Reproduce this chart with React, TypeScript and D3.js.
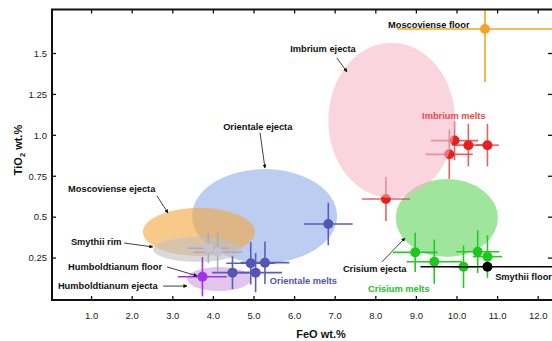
import React from "react";
import * as d3 from "d3";

// ---------- data ----------
const xTicks = [1, 2, 3, 4, 5, 6, 7, 8, 9, 10, 11, 12];
const yTicks = [0.25, 0.5, 0.75, 1.0, 1.25, 1.5];
const yTickLabels = ["0.25", "0.5", "0.75", "1.0", "1.25", "1.5"];

// ejecta fields (ellipses): centre FeO, centre TiO2, half-width FeO, half-height TiO2
const ejectaNames = ["Imbrium ejecta", "Crisium ejecta", "Orientale ejecta", "Moscoviense ejecta", "Smythii rim", "Humboldtianum ejecta"];
const ejectaFeO = [8.39, 9.75, 5.26, 3.645, 3.61, 4.14];
const ejectaTiO2 = [1.091, 0.495, 0.507, 0.41, 0.303, 0.122];
const ejectaFeOSpread = [1.56, 1.256, 1.786, 1.38, 1.096, 0.79];
const ejectaTiO2Spread = [0.474, 0.238, 0.287, 0.147, 0.076, 0.073];

// melts / samples with error bars
const imbriumMeltsFeO = [9.94, 10.28, 10.75, 9.81, 8.25];
const imbriumMeltsTiO2 = [0.968, 0.94, 0.94, 0.884, 0.611];
const imbriumMeltsFeOErr = [0.58, 0.4, 0.28, 0.58, 0.59];
const imbriumMeltsTiO2Err = [0.12, 0.13, 0.13, 0.15, 0.135];

const crisiumMeltsFeO = [8.97, 9.44, 10.16, 10.51, 10.75];
const crisiumMeltsTiO2 = [0.285, 0.228, 0.197, 0.289, 0.259];
const crisiumMeltsFeOErr = [0.55, 0.68, 0.3, 0.53, 0.36];
const crisiumMeltsTiO2Err = [0.12, 0.135, 0.13, 0.13, 0.13];

const orientaleMeltsFeO = [4.47, 4.92, 5.27, 5.04, 6.83];
const orientaleMeltsTiO2 = [0.161, 0.218, 0.222, 0.161, 0.458];
const orientaleMeltsFeOErr = [0.5, 0.6, 0.6, 0.65, 0.6];
const orientaleMeltsTiO2Err = [0.1, 0.13, 0.13, 0.12, 0.13];

const smythiiRimFeO = [3.875, 4.105];
const smythiiRimTiO2 = [0.31, 0.286];
const smythiiRimFeOErr = [0.5, 0.6];
const smythiiRimTiO2Err = [0.09, 0.12];

const humboldtianumFloorFeO = [3.73];
const humboldtianumFloorTiO2 = [0.136];
const humboldtianumFloorFeOErr = [0.6];
const humboldtianumFloorTiO2Err = [0.12];

const moscovienseFloorFeO = [10.69];
const moscovienseFloorTiO2 = [1.65];
const moscovienseFloorFeOErr = [2.17];
const moscovienseFloorTiO2Err = [0.324];

const smythiiFloorFeO = [10.75];
const smythiiFloorTiO2 = [0.197];
const smythiiFloorFeOErr = [1.65];
const smythiiFloorTiO2Err = [0];

// annotations (text, FeO, TiO2 anchor) and arrows (from -> to, in data units)
const labelTexts = ["Moscoviense floor", "Imbrium ejecta", "Orientale ejecta", "Imbrium melts", "Moscoviense ejecta", "Smythii rim", "Humboldtianum floor", "Humboldtianum ejecta", "Orientale melts", "Crisium ejecta", "Crisium melts", "Smythii floor"];
const labelFeO = [8.3, 5.89, 4.24, 9.14, 0.42, 0.49, 0.42, 0.17, 5.39, 7.19, 7.81, 10.94];
const labelTiO2 = [1.657, 1.51, 1.033, 1.1, 0.654, 0.33, 0.177, 0.061, 0.092, 0.165, 0.043, 0.116];

const arrowFromFeO = [7.04, 5.15, 2.61, 1.8, 2.86, 2.76, 8.15];
const arrowFromTiO2 = [1.473, 1.015, 0.63, 0.342, 0.196, 0.079, 0.226];
const arrowToFeO = [7.29, 5.27, 2.88, 2.51, 3.6, 3.35, 8.72];
const arrowToTiO2 = [1.388, 0.8, 0.526, 0.318, 0.141, 0.079, 0.373];

// ---------- styles ----------
const FONT = "'Liberation Sans', Arial, Helvetica, sans-serif";
const ejectaColors = ["#F5B2C6", "#61D45A", "#8FACE9", "#F5A53C", "#C1C1C1", "#CF9DDF"];
const labelColors = ["#111", "#111", "#111", "#E84A4A", "#111", "#111", "#111", "#111", "#4F52B3", "#111", "#22C022", "#111"];

const W = 552;
const H = 341;
const x = d3.scaleLinear().domain([0, 12.34]).range([51, 552]);
const y = d3.scaleLinear().domain([0, 1.772]).range([299, 9]);
const PL = 52, PR = 553, PT = 9.5, PB = 300;

type SeriesProps = {
  fe: number[]; ti: number[]; feErr: number[]; tiErr: number[];
  color: string; barColor: string; r?: number; barOpacity?: number;
};

function Series({ fe, ti, feErr, tiErr, color, barColor, r = 5, barOpacity = 1 }: SeriesProps) {
  return (
    <g>
      {fe.map((v, i) => (
        <g key={"b" + i} stroke={barColor} strokeWidth={1.6} opacity={barOpacity}>
          <line x1={x(v - feErr[i])} x2={x(v + feErr[i])} y1={y(ti[i])} y2={y(ti[i])} />
          {tiErr[i] > 0 && <line x1={x(v)} x2={x(v)} y1={y(ti[i] - tiErr[i])} y2={y(ti[i] + tiErr[i])} />}
        </g>
      ))}
      {fe.map((v, i) => (
        <circle key={"c" + i} cx={x(v)} cy={y(ti[i])} r={r} fill={color} />
      ))}
    </g>
  );
}

function Ellipse({ i, opacity = 0.6 }: { i: number; opacity?: number }) {
  const cx = x(ejectaFeO[i]);
  const cy = y(ejectaTiO2[i]);
  const rx = x(ejectaFeO[i] + ejectaFeOSpread[i]) - cx;
  const ry = cy - y(ejectaTiO2[i] + ejectaTiO2Spread[i]);
  return <ellipse cx={cx} cy={cy} rx={rx} ry={ry} fill={ejectaColors[i]} fillOpacity={opacity} />;
}

export default function App() {
  return (
    <svg width={W} height={H} style={{ position: "absolute", left: 0, top: 0, background: "#fff" }} fontFamily={FONT}>
      <defs>
        <clipPath id="plotClip">
          <rect x={PL} y={PT} width={PR - PL} height={PB - PT} />
        </clipPath>
        <marker id="arr" viewBox="0 0 10 10" refX="9" refY="5" markerWidth="5" markerHeight="5" orient="auto">
          <path d="M0,0 L10,5 L0,10 z" fill="#111" />
        </marker>
      </defs>

      <g clipPath="url(#plotClip)">
        <Ellipse i={1} />
        <Ellipse i={2} />
        <Ellipse i={3} />
        <Ellipse i={4} opacity={0.62} />
        <Ellipse i={5} />

        <Series fe={orientaleMeltsFeO} ti={orientaleMeltsTiO2} feErr={orientaleMeltsFeOErr} tiErr={orientaleMeltsTiO2Err} color="#5456B6" barColor="#5A5DC0" />
        <Series fe={smythiiRimFeO} ti={smythiiRimTiO2} feErr={smythiiRimFeOErr} tiErr={smythiiRimTiO2Err} color="#C4C4D0" barColor="#A4A6D0" barOpacity={0.9} />
        <Series fe={humboldtianumFloorFeO} ti={humboldtianumFloorTiO2} feErr={humboldtianumFloorFeOErr} tiErr={humboldtianumFloorTiO2Err} color="#A030F2" barColor="#A030F2" />
        <Series fe={crisiumMeltsFeO} ti={crisiumMeltsTiO2} feErr={crisiumMeltsFeOErr} tiErr={crisiumMeltsTiO2Err} color="#1CC81C" barColor="#22CC22" />
        <Series fe={smythiiFloorFeO} ti={smythiiFloorTiO2} feErr={smythiiFloorFeOErr} tiErr={smythiiFloorTiO2Err} color="#000" barColor="#000" />
        <Series fe={moscovienseFloorFeO} ti={moscovienseFloorTiO2} feErr={moscovienseFloorFeOErr} tiErr={moscovienseFloorTiO2Err} color="#F6A423" barColor="#F6A423" />
        <Series fe={imbriumMeltsFeO} ti={imbriumMeltsTiO2} feErr={imbriumMeltsFeOErr} tiErr={imbriumMeltsTiO2Err} color="#E3231B" barColor="#E24848" barOpacity={0.85} />

        <Ellipse i={0} opacity={0.55} />
      </g>

      {/* frame */}
      <rect x={PL} y={PT} width={PR - PL} height={PB - PT} fill="none" stroke="#111" strokeWidth={2} />
      {xTicks.map((t) => (
        <g key={"xt" + t} stroke="#111" strokeWidth={1.3}>
          <line x1={x(t)} x2={x(t)} y1={PB} y2={PB - 4} />
          <line x1={x(t)} x2={x(t)} y1={PT} y2={PT + 4} />
        </g>
      ))}
      {yTicks.map((t) => (
        <g key={"yt" + t} stroke="#111" strokeWidth={1.3}>
          <line x1={PL} x2={PL + 4} y1={y(t)} y2={y(t)} />
          <line x1={PR} x2={PR - 5} y1={y(t)} y2={y(t)} />
        </g>
      ))}
      {xTicks.map((t) => (
        <text key={"xl" + t} x={x(t)} y={319} textAnchor="middle" fontSize={9.5} fill="#222">
          {d3.format(".1f")(t)}
        </text>
      ))}
      {yTicks.map((t, i) => (
        <text key={"yl" + t} x={47} y={y(t)} dy="0.35em" textAnchor="end" fontSize={9.5} fill="#222">
          {yTickLabels[i]}
        </text>
      ))}

      {/* axis titles */}
      <text x={321} y={338} textAnchor="middle" fontSize={11} fontWeight="bold" fill="#111">FeO wt.%</text>
      <text transform="translate(22,150) rotate(-90)" textAnchor="middle" fontSize={11} fontWeight="bold" fill="#111">
        TiO<tspan fontSize={7.5} dy={3}>2</tspan><tspan dy={-3}> wt.%</tspan>
      </text>

      {/* arrows */}
      {arrowFromFeO.map((v, i) => (
        <line key={"ar" + i} x1={x(v)} y1={y(arrowFromTiO2[i])} x2={x(arrowToFeO[i])} y2={y(arrowToTiO2[i])}
          stroke="#111" strokeWidth={0.8} markerEnd="url(#arr)" />
      ))}

      {/* labels */}
      {labelTexts.map((t, i) => (
        <text key={"lb" + i} x={x(labelFeO[i])} y={y(labelTiO2[i])} fontSize={9.3} fontWeight="bold" fill={labelColors[i]}>
          {t}
        </text>
      ))}
    </svg>
  );
}
